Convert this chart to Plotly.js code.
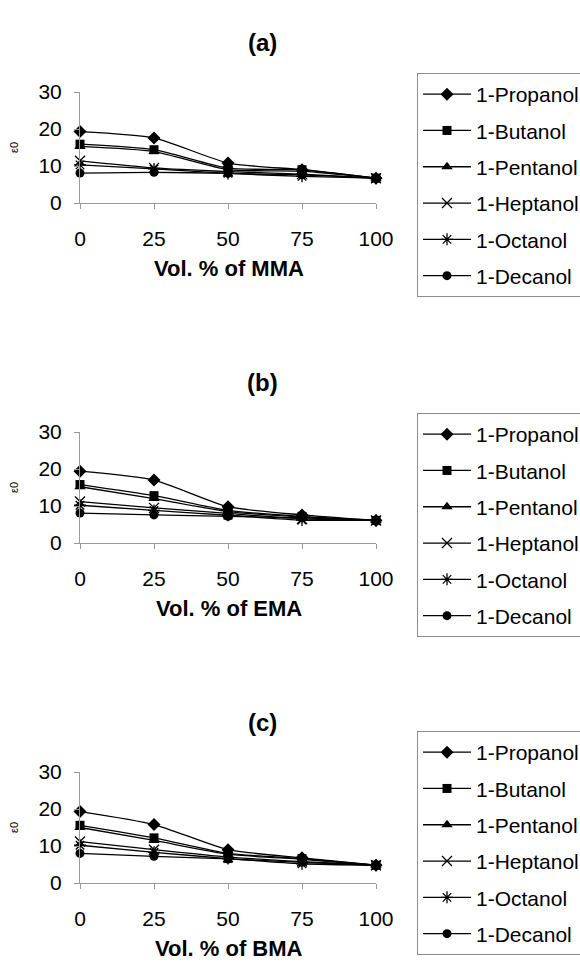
<!DOCTYPE html>
<html>
<head>
<meta charset="utf-8">
<script src="https://cdn.plot.ly/plotly-3.0.1.min.js"></script>
<style>html,body{margin:0;padding:0;background:#fff;overflow:hidden}</style>
</head>
<body>
<div id="chart" style="width:580px;height:969px"></div>
<script>
// ---- data ----
const volPct = [0, 25, 50, 75, 100];
const alcohols = ["1-Propanol", "1-Butanol", "1-Pentanol", "1-Heptanol", "1-Octanol", "1-Decanol"];
const panelLabels = ["(a)", "(b)", "(c)"];
const monomers = ["MMA", "EMA", "BMA"];
const xTickVals = [0, 25, 50, 75, 100];
const yTickVals = [0, 10, 20, 30];

// (a) MMA
const mmaPropanol = [19.3, 17.6, 10.8, 9.0, 6.7];
const mmaButanol  = [15.9, 14.4, 9.4, 9.0, 6.7];
const mmaPentanol = [15.3, 13.9, 9.0, 8.6, 6.7];
const mmaHeptanol = [11.4, 9.5, 8.5, 7.8, 6.7];
const mmaOctanol  = [10.3, 9.2, 8.0, 7.2, 6.7];
const mmaDecanol  = [8.1, 8.3, 8.0, 7.6, 6.7];
// (b) EMA
const emaPropanol = [19.4, 17.0, 9.8, 7.6, 6.1];
const emaButanol  = [15.8, 12.8, 8.8, 7.2, 6.1];
const emaPentanol = [15.2, 12.0, 8.5, 7.0, 6.1];
const emaHeptanol = [11.2, 9.5, 8.0, 6.5, 6.1];
const emaOctanol  = [10.2, 8.8, 7.5, 6.2, 6.1];
const emaDecanol  = [8.1, 7.6, 7.2, 6.8, 6.1];
// (c) BMA
const bmaPropanol = [19.3, 15.8, 9.0, 6.8, 4.8];
const bmaButanol  = [15.6, 12.2, 8.0, 6.6, 4.8];
const bmaPentanol = [15.0, 11.5, 7.8, 6.4, 4.8];
const bmaHeptanol = [11.2, 9.0, 7.0, 5.8, 4.8];
const bmaOctanol  = [10.2, 8.3, 6.6, 5.2, 4.8];
const bmaDecanol  = [8.0, 7.2, 6.5, 5.6, 4.8];

const panelSeries = [
  [mmaPropanol, mmaButanol, mmaPentanol, mmaHeptanol, mmaOctanol, mmaDecanol],
  [emaPropanol, emaButanol, emaPentanol, emaHeptanol, emaOctanol, emaDecanol],
  [bmaPropanol, bmaButanol, bmaPentanol, bmaHeptanol, bmaOctanol, bmaDecanol]
];

// ---- styling ----
const W = 580, H = 969;
const FONT = "Liberation Sans, Arial, sans-serif";
const symbols = ["diamond", "square", "triangle-up", "x-thin-open", "asterisk-open", "circle"];
const sizes = [10, 9, 10, 10, 10, 9];
const panelShift = 340;          // vertical pixel offset between panels
const plotTop0 = 92, plotBot0 = 203;
const plotLeft = 80, plotRight = 376;
const legendTops = [73, 413, 731];
const py = p => 1 - p / H;
const px = p => p / W;
const axisIds = ["", "2", "3"];
const legendIds = ["legend", "legend2", "legend3"];

const traces = [];
const layout = {
  width: W, height: H,
  margin: {l: 0, r: 0, t: 0, b: 0, autoexpand: false},
  paper_bgcolor: "#fff", plot_bgcolor: "#fff",
  showlegend: true,
  font: {family: FONT, color: "#000", size: 21},
  annotations: []
};

panelSeries.forEach((series, p) => {
  const ax = axisIds[p];
  const off = p * panelShift;
  series.forEach((vals, i) => {
    traces.push({
      type: "scatter", mode: "lines+markers",
      x: volPct, y: vals, name: alcohols[i],
      xaxis: "x" + ax, yaxis: "y" + ax,
      legend: legendIds[p],
      legendgroup: "g" + p + "_" + i,
      line: {color: "#000", width: 1.3, shape: "spline", smoothing: 0.6},
      marker: {symbol: symbols[i], size: sizes[i], color: "#000",
               line: {color: "#000", width: (i === 3 || i === 4) ? 1.3 : 0}},
      cliponaxis: false
    });
  });
  const axStyle = {
    showline: true, linecolor: "#9a9a9a", linewidth: 1,
    ticks: "outside", ticklen: 5, tickcolor: "#9a9a9a", tickwidth: 1,
    showgrid: false, zeroline: false,
    tickfont: {family: FONT, size: 21, color: "#000"}
  };
  layout["xaxis" + ax] = Object.assign({}, axStyle, {
    range: [0, 100], tickvals: xTickVals, ticktext: xTickVals.map(String),
    domain: [px(plotLeft), px(plotRight)], anchor: "y" + ax,
    ticklabelstandoff: 12
  });
  layout["yaxis" + ax] = Object.assign({}, axStyle, {
    range: [0, 30], tickvals: yTickVals, ticktext: yTickVals.map(String),
    domain: [py(plotBot0 + off), py(plotTop0 + off)], anchor: "x" + ax,
    ticklabelstandoff: 8
  });
  layout[legendIds[p]] = {
    x: px(417), y: py(legendTops[p]), xanchor: "left", yanchor: "top",
    bgcolor: "#fff", bordercolor: "#8c8c8c", borderwidth: 1,
    font: {family: FONT, size: 21, color: "#000"},
    itemwidth: 48, traceorder: "grouped", tracegroupgap: 6
  };
  layout.annotations.push({
    text: "<b>" + panelLabels[p] + "</b>", xref: "paper", yref: "paper",
    x: px(262), y: py(42 + off), xanchor: "center", yanchor: "middle", showarrow: false,
    font: {family: FONT, size: 24, color: "#000"}
  });
  layout.annotations.push({
    text: "<b>Vol. % of " + monomers[p] + "</b>", xref: "paper", yref: "paper",
    x: px(229), y: py(268 + off), xanchor: "center", yanchor: "middle", showarrow: false,
    font: {family: FONT, size: 22, color: "#000"}
  });
  layout.annotations.push({
    text: "ε0", xref: "paper", yref: "paper", textangle: -90,
    x: px(14), y: py(148 + off), xanchor: "center", yanchor: "middle", showarrow: false,
    font: {family: FONT, size: 11, color: "#000"}
  });
});

Plotly.newPlot("chart", traces, layout, {staticPlot: true});
</script>
</body>
</html>
